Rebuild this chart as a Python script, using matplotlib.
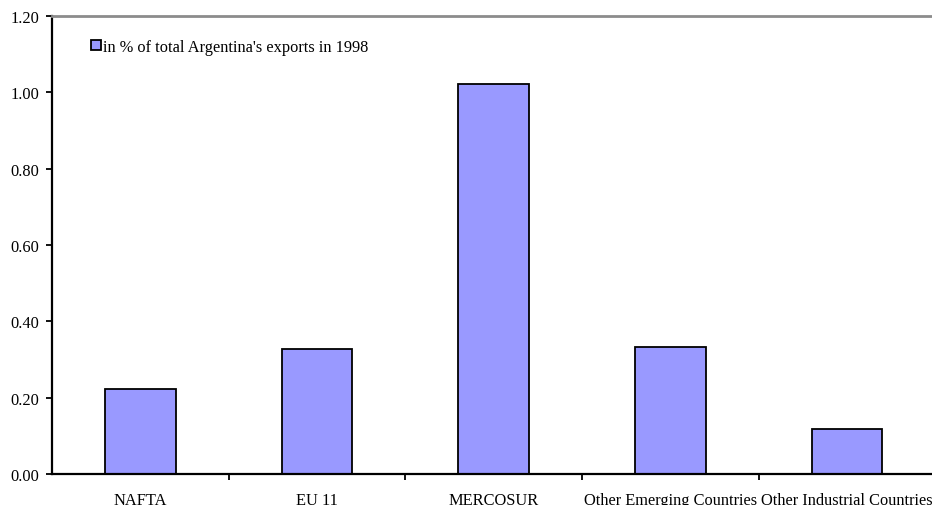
import matplotlib
matplotlib.use("Agg")
import matplotlib.pyplot as plt
import numpy as np
from matplotlib.patches import Rectangle

categories = ["NAFTA", "EU 11", "MERCOSUR", "Other Emerging Countries", "Other Industrial Countries"]
values = [0.223, 0.328, 1.021, 0.334, 0.119]
series_label = "in % of total Argentina's exports in 1998"
yticks = [0.00, 0.20, 0.40, 0.60, 0.80, 1.00, 1.20]

plt.rcParams["font.family"] = ["Liberation Serif", "DejaVu Serif"]
FS = 11.8

fig = plt.figure(figsize=(9.32, 5.06), dpi=100)
ax = fig.add_axes([52 / 932, 31 / 506, 883.5 / 932, 458 / 506])

x = np.arange(len(categories)) + 0.5
ax.bar(x, values, width=0.4, color="#9999FF", edgecolor="black", linewidth=1.3, zorder=2)

ax.set_xlim(0, len(categories))
ax.set_ylim(0, 1.2)
ax.set_yticks(yticks)
ax.set_yticklabels([f"{v:.2f}" for v in yticks], fontsize=FS)

# category ticks sit between the bars, labels centred under bars
ax.set_xticks(np.arange(1, len(categories)))
ax.set_xticklabels([])
ax.set_xticks(x, minor=True)
ax.set_xticklabels(categories, minor=True, fontsize=FS)
ax.tick_params(axis="x", which="minor", length=0, pad=13)
ax.tick_params(axis="x", which="major", length=4, width=1.3, direction="out")
ax.tick_params(axis="y", length=4, width=1.3, direction="out", pad=5)

ax.spines["right"].set_visible(False)
ax.spines["top"].set_color("#8c8c8c")
ax.spines["top"].set_linewidth(2)
ax.spines["left"].set_linewidth(1.6)
ax.spines["bottom"].set_linewidth(1.6)

# legend: small swatch and text, no frame
fig.patches.append(Rectangle((91 / 932, 1 - 51 / 506), 10 / 932, 10 / 506,
                             transform=fig.transFigure, facecolor="#9999FF",
                             edgecolor="black", linewidth=1.3))
fig.text(103 / 932, 1 - 48 / 506, series_label, fontsize=FS, va="center", ha="left")

fig.savefig("out.png", dpi=100)
